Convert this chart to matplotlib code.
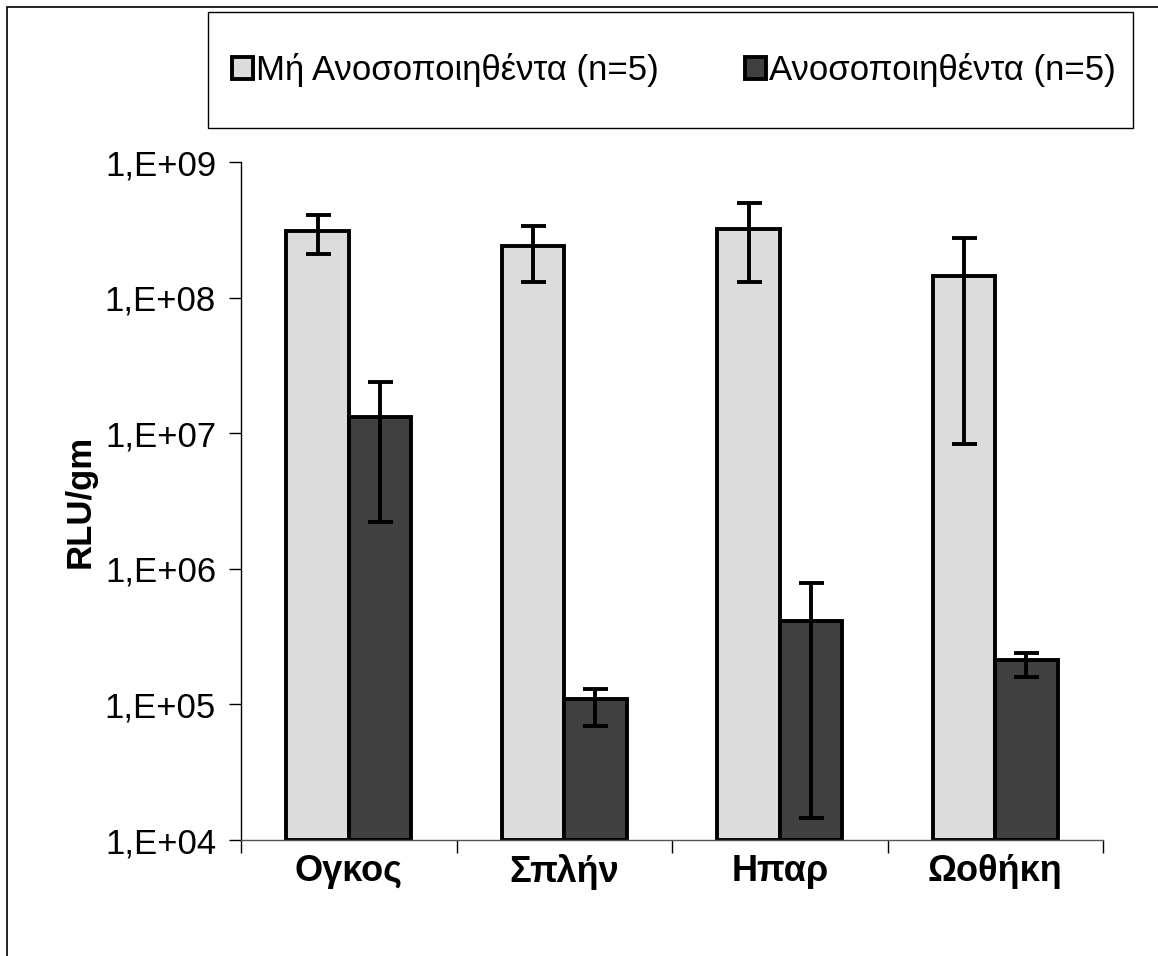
import matplotlib
matplotlib.use("Agg")
import matplotlib.pyplot as plt
from matplotlib.patches import Rectangle
import numpy as np

categories = ["Ογκος", "Σπλήν", "Ηπαρ", "Ωοθήκη"]
series_names = ["Μή Ανοσοποιηθέντα (n=5)", "Ανοσοποιηθέντα (n=5)"]
unimm = [3.1e8, 2.4e8, 3.2e8, 1.44e8]
unimm_hi = [4.1e8, 3.4e8, 5.0e8, 2.75e8]
unimm_lo = [2.1e8, 1.3e8, 1.3e8, 8.3e6]
imm = [1.32e7, 1.0e5, 4.0e5, 2.04e5]
imm_hi = [2.4e7, 1.3e5, 7.9e5, 2.4e5]
imm_lo = [2.2e6, 6.9e4, 1.45e4, 1.6e5]
ytick_vals = [1e4, 1e5, 1e6, 1e7, 1e8, 1e9]
ytick_labels = ["1,E+04", "1,E+05", "1,E+06", "1,E+07", "1,E+08", "1,E+09"]

plt.rcParams['font.family'] = ['Liberation Sans', 'DejaVu Sans']

W, H = 1158, 956
fig = plt.figure(figsize=(W/100, H/100), dpi=100)
ax = fig.add_axes([241/W, 1-840/H, (1103-241)/W, (840-162)/H])

x = np.arange(len(categories))
bw = 0.29
light = '#dcdcdc'
dark = '#404040'
lw = 2.8

def err(v, lo, hi):
    v = np.array(v); lo = np.array(lo); hi = np.array(hi)
    return np.vstack([v - lo, hi - v])

b1 = ax.bar(x - bw/2, unimm, bw, bottom=1e4, color=light, edgecolor='black', linewidth=lw, zorder=2)
b2 = ax.bar(x + bw/2, imm, bw, bottom=1e4, color=dark, edgecolor='black', linewidth=lw, zorder=2)
for pos, v, lo, hi in [(x - bw/2, unimm, unimm_lo, unimm_hi), (x + bw/2, imm, imm_lo, imm_hi)]:
    ax.errorbar(pos, v, yerr=err(v, lo, hi), fmt='none', ecolor='black',
                elinewidth=lw, capsize=9, capthick=lw, zorder=3)

ax.set_yscale('log')
ax.set_ylim(1e4, 1e9)
ax.set_xlim(-0.5, len(categories) - 0.5)
ax.set_yticks(ytick_vals)
ax.set_yticklabels(ytick_labels, fontsize=25)
ax.yaxis.set_minor_locator(matplotlib.ticker.NullLocator())
ax.set_xticks(np.arange(-0.5, len(categories), 1.0))
ax.set_xticklabels([])
ax.set_xticks(x, minor=True)
ax.set_xticklabels(categories, minor=True, fontsize=26, fontweight='bold')
ax.tick_params(axis='x', which='minor', length=0, pad=10)
ax.tick_params(axis='x', which='major', length=9, width=1, direction='out', color='black')
ax.tick_params(axis='y', which='major', length=9, width=1, direction='out', pad=9)
for s in ['top', 'right']:
    ax.spines[s].set_visible(False)
ax.spines['left'].set_linewidth(1)
ax.spines['bottom'].set_linewidth(1)
ax.spines['bottom'].set_color('#555555')
ax.set_ylabel("RLU/gm", fontsize=25, fontweight='bold')
ax.yaxis.set_label_coords((97 - 241) / 862, 0.5)

# outer frame
fig.patches.append(Rectangle((7/W, -0.05), 1.2, 1 - 7/H + 0.05, transform=fig.transFigure,
                             fill=False, edgecolor='black', linewidth=1.2))
# legend box
fig.patches.append(Rectangle((208/W, 1-128/H), (1133-208)/W, (128-12)/H, transform=fig.transFigure,
                             fill=False, edgecolor='black', linewidth=1.0))
leg = fig.legend([b1, b2], series_names, loc='center',
                 bbox_to_anchor=(674/W, 1-70/H), ncol=2, frameon=False, fontsize=25,
                 handlelength=0.6, handleheight=0.6, handletextpad=0.08,
                 columnspacing=2.5, borderaxespad=0)

fig.savefig("out.png", dpi=100)
